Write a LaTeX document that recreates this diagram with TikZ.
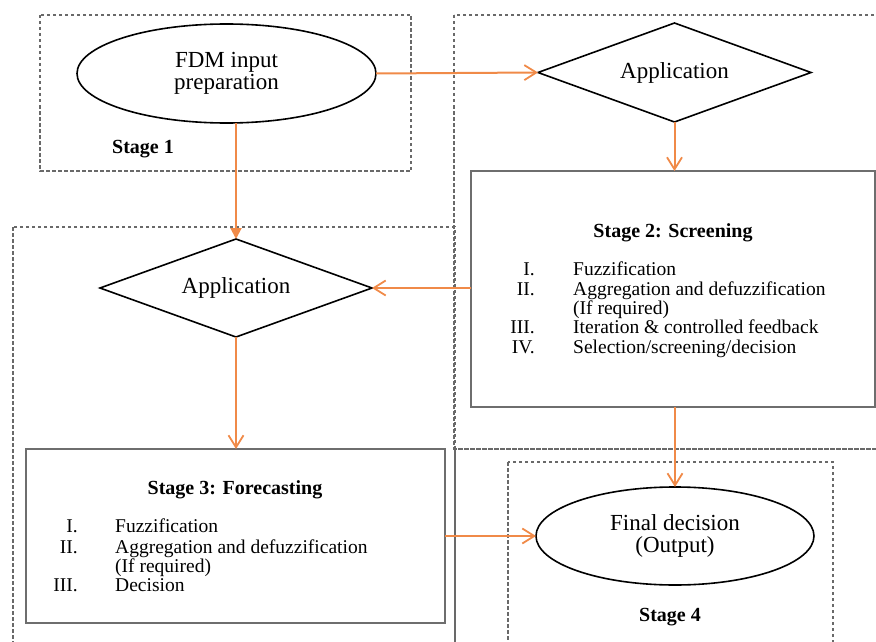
\documentclass[tikz,border=0pt]{standalone}
\usepackage{fontspec}
\setmainfont{Liberation Serif}
\usetikzlibrary{shapes.geometric,arrows.meta}
\definecolor{arrorange}{RGB}{240,138,72}
\definecolor{dashgray}{RGB}{105,105,105}
\definecolor{boxgray}{RGB}{110,110,110}
\tikzset{
  stagebox/.style={draw=dashgray,line width=1.1pt,dash pattern=on 3.5pt off 2.5pt},
  procbox/.style={draw=boxgray,line width=1.5pt,fill=white,inner sep=0pt,outer sep=0pt},
  ovalnode/.style={ellipse,draw=black,line width=1.6pt,fill=white,inner sep=0pt,outer sep=0pt,align=center,font=\fontsize{23}{22}\selectfont},
  decnode/.style={diamond,aspect=2.76,draw=black,line width=1.6pt,fill=white,inner sep=0pt,outer sep=0pt,font=\fontsize{23}{22}\selectfont},
  flow/.style={draw=arrorange,line width=2pt,-{Straight Barb[length=12pt,width=15pt,line width=1.8pt]}},
  flowfill/.style={draw=arrorange,line width=2pt,-{Triangle[length=11pt,width=11pt]},fill=arrorange},
  titletext/.style={font=\fontsize{20}{20}\selectfont\bfseries,inner sep=0pt},
  numtext/.style={font=\fontsize{19.5}{20}\selectfont,inner sep=0pt,anchor=base east},
  itemtext/.style={font=\fontsize{19.5}{20}\selectfont,inner sep=0pt,anchor=base west}
}
\begin{document}
\begin{tikzpicture}[x=1pt,y=-1pt]
\useasboundingbox (0,0) rectangle (876,642);
\clip (0,0) rectangle (876,642);
% stage containers
\draw[stagebox] (40,15) rectangle (411,171);
\draw[stagebox] (454,15) rectangle (890,449);
\draw[stagebox] (13,227) rectangle (455,660);
\draw[stagebox] (455,449) rectangle (890,660);
\draw[stagebox] (508,462) rectangle (833,660);
% nodes
\node[ovalnode,minimum width=299pt,minimum height=99pt] (fdm) at (226.5,73.5) {FDM input\\preparation};
\node[decnode,minimum width=273pt,minimum height=99pt] (app1) at (674.5,72.5) {Application};
\node[procbox,minimum width=404pt,minimum height=236pt] (s2) at (673,289) {};
\node[decnode,minimum width=272pt,minimum height=98pt] (app2) at (236,288) {Application};
\node[procbox,minimum width=419pt,minimum height=174pt] (s3) at (235.5,536) {};
\node[ovalnode,minimum width=278pt,minimum height=98pt] (fin) at (675,536) {Final decision\\(Output)};
% labels
\node[titletext,anchor=base west] (st1) at (112,153) {Stage 1};
\node[titletext,anchor=base] (st4) at (670,621) {Stage 4};
\node[titletext,anchor=base] (st2t) at (673,237) {Stage 2: Screening};
\node[numtext] (n21) at (535,275) {I.};
\node[itemtext] (i21) at (573,275) {Fuzzification};
\node[numtext] (n22) at (535,295) {II.};
\node[itemtext] (i22) at (573,295) {Aggregation and defuzzification};
\node[itemtext] (i22b) at (573,314) {(If required)};
\node[numtext] (n23) at (535,333) {III.};
\node[itemtext] (i23) at (573,333) {Iteration \& controlled feedback};
\node[numtext] (n24) at (535,353) {IV.};
\node[itemtext] (i24) at (573,353) {Selection/screening/decision};
\node[titletext,anchor=base] (st3t) at (235,494) {Stage 3: Forecasting};
\node[numtext] (n31) at (78,532) {I.};
\node[itemtext] (i31) at (115,532) {Fuzzification};
\node[numtext] (n32) at (78,553) {II.};
\node[itemtext] (i32) at (115,553) {Aggregation and defuzzification};
\node[itemtext] (i32b) at (115,572) {(If required)};
\node[numtext] (n33) at (78,591) {III.};
\node[itemtext] (i33) at (115,591) {Decision};
% connectors
\draw[flow] (fdm.east) -- (app1.west);
\draw[flow] (app1.south) -- (app1.south |- s2.north);
\draw[flowfill] (fdm.south -| app2.north) -- (app2.north);
\draw[flow] (s2.west |- app2.east) -- (app2.east);
\draw[flow] (app2.south) -- (app2.south |- s3.north);
\draw[flow] (s3.east) -- (fin.west);
\draw[flow] (fin.north |- s2.south) -- (fin.north);
\end{tikzpicture}
\end{document}
